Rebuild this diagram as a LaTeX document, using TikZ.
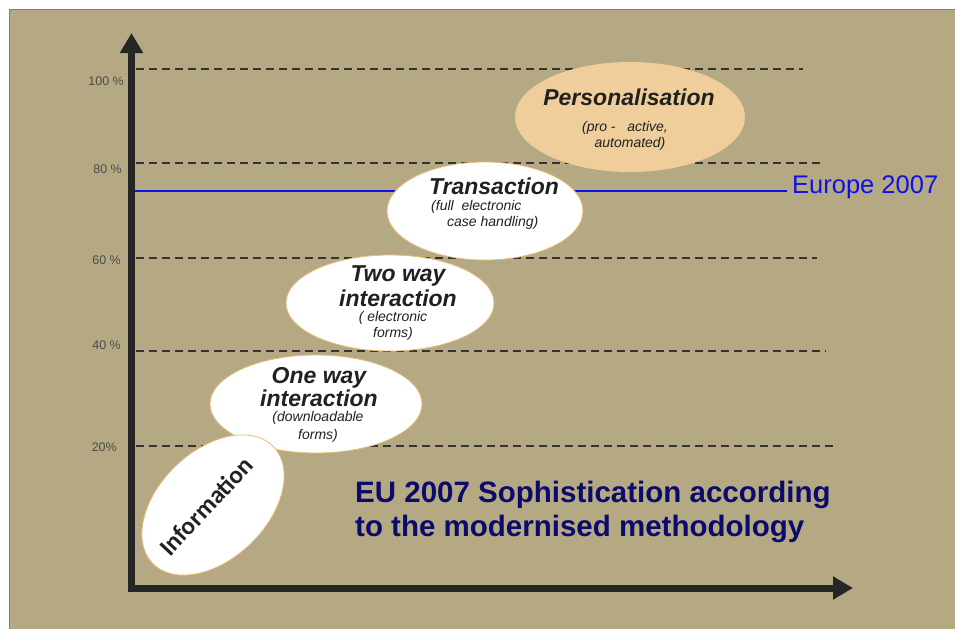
\documentclass[tikz,border=0pt]{standalone}
\usepackage{fontspec}
\setmainfont{Liberation Sans}
\newfontfamily\calibri{Carlito}
\usetikzlibrary{shapes.geometric,arrows.meta}
\definecolor{khaki}{HTML}{B4A982}
\definecolor{peach}{HTML}{F0CE9B}
\definecolor{rim}{HTML}{EBB97A}
\definecolor{axisgray}{HTML}{262626}
\definecolor{navy}{HTML}{0B0B6B}
\definecolor{eublue}{HTML}{1010E8}
\tikzstyle{bubble} = [draw=rim, fill=white, ellipse, inner sep=0pt, line width=0.8pt]
\tikzstyle{grid} = [dash pattern=on 8pt off 5pt, line width=1.1pt, color=black!80]
\tikzstyle{pct} = [anchor=east, inner sep=0pt, text=black!70, font={\fontsize{12.5}{14}\selectfont}]
\tikzstyle{axis} = [line width=7pt, color=axisgray, line cap=rect, -{Triangle[width=22pt,length=20pt]}]
\tikzstyle{head} = [inner sep=0pt, align=center, text=black!87, font={\fontsize{23}{25}\selectfont\bfseries\itshape}]
\tikzstyle{sub} = [inner sep=0pt, align=center, text=black!87, font={\fontsize{14}{15.5}\selectfont\itshape}]

\begin{document}
\begin{tikzpicture}[x=1pt,y=-1pt]
    \useasboundingbox (0,0) rectangle (955,629);
    \fill[khaki] (9,9) rectangle (955,629);
    \draw[gray, line width=0.8pt] (9,629) -- (9,9) -- (955,9);
    % scale
    \node[pct](p100) at (124,81){100 \%};
    \node[pct](p80) at (122,169){80 \%};
    \node[pct](p60) at (121,260){60 \%};
    \node[pct](p40) at (121,345){40 \%};
    \node[pct](p20) at (117,447){20\%};
    \draw[grid] (136,69) -- (803,69);
    \draw[grid] (136,163) -- (822,163);
    \draw[grid] (136,258) -- (817,258);
    \draw[grid] (136,351) -- (826,351);
    \draw[grid] (136,446) -- (836,446);
    % europe level
    \node[anchor=west, inner sep=0pt, text=eublue, font={\fontsize{25.5}{27}\selectfont}](eu) at (792,187){Europe 2007};
    \coordinate (eustart) at (135,191);
    \draw[eublue, line width=2.6pt] (eustart) -- ([xshift=-5pt]eustart -| eu.west);
    % stages
    \node[bubble, fill=peach, draw=none, minimum width=230pt, minimum height=110pt](pers) at (630,117){};
    \node[bubble, minimum width=196pt, minimum height=98pt](trans) at (485,211){};
    \node[bubble, minimum width=208pt, minimum height=96pt](twoway) at (390,303){};
    \node[bubble, minimum width=212pt, minimum height=98pt](oneway) at (316,404){};
    \node[bubble, minimum width=168pt, minimum height=108pt, rotate=44](info) at (213,505){};
    \node[head](pers-h) at (629,97){Personalisation};
    \node[sub](pers-s) at (625,136){(pro -\ \ \ active,\\\hspace{10pt}automated)};
    \node[head](trans-h) at (494,186){Transaction};
    \node[sub, align=left, anchor=west](trans-s) at (431,215){(full\ \ electronic\\\hspace{16pt}case handling)};
    \node[head](twoway-h) at (398,286){Two way\\interaction};
    \node[sub](twoway-s) at (393,326){( electronic\\forms)};
    \node[head, font={\fontsize{23}{23}\selectfont\bfseries\itshape}](oneway-h) at (319,387){One way\\interaction};
    \node[sub, font={\fontsize{14}{18}\selectfont\itshape}](oneway-s) at (318,427){(downloadable\\forms)};
    \node[inner sep=0pt, rotate=47, text=black!87, font={\calibri\bfseries\fontsize{25}{27}\selectfont}](info-t) at (206,506){Information};
    % title
    \node[anchor=west, align=left, inner sep=0pt, text=navy, font={\fontsize{29.5}{34}\selectfont\bfseries}](title) at (355,512){EU 2007 Sophistication according\\to the modernised methodology};
    % axes
    \coordinate (orig) at (131.5,588);
    \coordinate (ytip) at (131.5,33);
    \coordinate (xtip) at (853,588);
    \draw[axis] (orig) -- (ytip);
    \draw[axis] (orig) -- (xtip);
  \end{tikzpicture}
\end{document}
